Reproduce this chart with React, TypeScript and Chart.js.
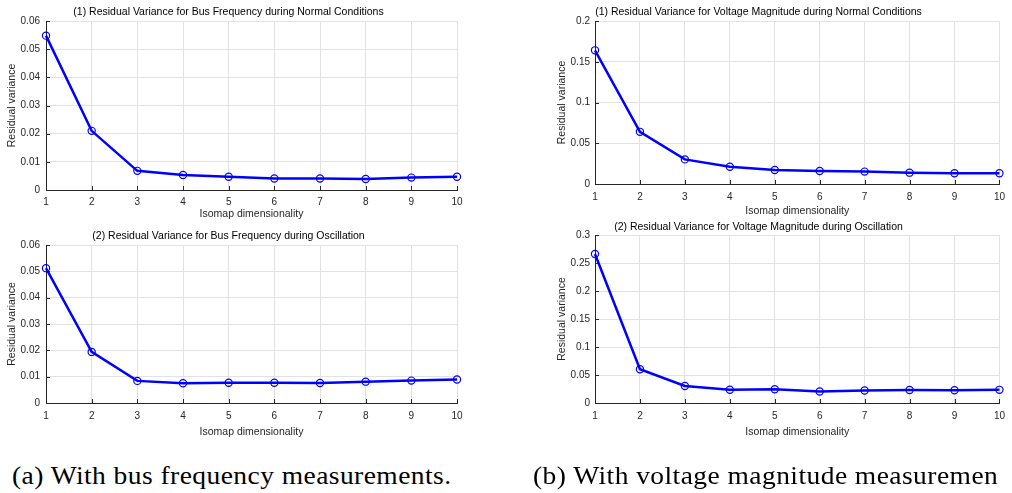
import React, { useEffect, useRef } from "react";
import { Chart, registerables } from "chart.js";

Chart.register(...registerables);

const dims = [1, 2, 3, 4, 5, 6, 7, 8, 9, 10];
const busNormal = [0.0548, 0.021, 0.0068, 0.0053, 0.0047, 0.0041, 0.0041, 0.0039, 0.0044, 0.0047];
const voltNormal = [0.164, 0.064, 0.0302, 0.0212, 0.0171, 0.0159, 0.0152, 0.0139, 0.0132, 0.0131];
const busOsc = [0.0512, 0.0194, 0.0084, 0.0075, 0.0077, 0.0077, 0.0076, 0.0081, 0.0085, 0.0089];
const voltOsc = [0.266, 0.0602, 0.0304, 0.0236, 0.0245, 0.0205, 0.0223, 0.0233, 0.0228, 0.0235];

const titles = [
  "(1) Residual Variance for Bus Frequency during Normal Conditions",
  "(1) Residual Variance for Voltage Magnitude during Normal Conditions",
  "(2) Residual Variance for Bus Frequency during Oscillation",
  "(2) Residual Variance for Voltage Magnitude during Oscillation",
];
const yTitle = "Residual variance";
const xTitle = "Isomap dimensionality";
const captions = ["(a) With bus frequency measurements.", "(b) With voltage magnitude measuremen"];

const FONT = "'Liberation Sans', Arial, Helvetica, sans-serif";
const AXIS = "#262626";
const GRID = "#e2e2e2";

type PanelProps = {
  values: number[];
  yMax: number;
  yStep: number;
  title: string;
  left: number;
  top: number;
  w: number;
  h: number;
  aL: number;
  aT: number;
  aR: number;
  aB: number;
  titleY: number;
  yTitleX: number;
  xLabelY: number;
  xTitleY: number;
  yLabelPad: number;
};

const inwardTicks = {
  id: "inwardTicks",
  beforeDatasetsDraw(chart: any) {
    const { ctx, chartArea, scales } = chart;
    const x = scales.x;
    const y = scales.y;
    ctx.save();
    ctx.strokeStyle = AXIS;
    ctx.lineWidth = 1;
    ctx.beginPath();
    y.ticks.forEach((t: any) => {
      const py = Math.round(y.getPixelForValue(t.value)) + 0.5;
      ctx.moveTo(chartArea.left, py);
      ctx.lineTo(chartArea.left + 4, py);
    });
    x.ticks.forEach((t: any) => {
      const px = Math.round(x.getPixelForValue(t.value)) + 0.5;
      ctx.moveTo(px, chartArea.bottom);
      ctx.lineTo(px, chartArea.bottom - 4);
    });
    ctx.stroke();
    ctx.restore();
  },
};

function fmt(v: number) {
  return String(parseFloat(Number(v).toFixed(4)));
}

function Panel(p: PanelProps) {
  const ref = useRef<HTMLCanvasElement | null>(null);
  useEffect(() => {
    if (!ref.current) return;
    const chart = new Chart(ref.current, {
      type: "line",
      data: {
        datasets: [
          {
            data: dims.map((d, i) => ({ x: d, y: p.values[i] })),
            borderColor: "#0000ff",
            borderWidth: 2.5,
            pointStyle: "circle",
            pointRadius: 3.6,
            pointBorderWidth: 1.2,
            pointBorderColor: "#0000ff",
            pointBackgroundColor: "rgba(0,0,0,0)",
            tension: 0,
            clip: false as any,
          },
        ],
      },
      options: {
        animation: false,
        responsive: false,
        maintainAspectRatio: false,
        events: [],
        layout: { padding: { left: 0, top: 0, bottom: 0, right: p.left + p.w - p.aR } },
        plugins: {
          legend: { display: false },
          tooltip: { enabled: false },
          title: {
            display: true,
            text: p.title,
            color: "#000",
            font: { family: FONT, size: 10.5, weight: "normal", lineHeight: 1.2 },
            padding: { top: p.titleY - p.top - 6.3, bottom: p.aT - p.titleY - 6.3 },
          },
        },
        scales: {
          x: {
            type: "linear",
            min: 1,
            max: 10,
            afterFit: (s: any) => {
              s.height = p.top + p.h - p.aB;
            },
            ticks: {
              stepSize: 1,
              autoSkip: false,
              maxRotation: 0,
              color: AXIS,
              padding: p.xLabelY - p.aB - 6,
              font: { family: FONT, size: 10, lineHeight: 1.2 },
            },
            grid: { color: GRID, drawTicks: false, lineWidth: 1 },
            border: { display: true, color: AXIS, width: 1 },
            title: {
              display: true,
              text: xTitle,
              color: AXIS,
              font: { family: FONT, size: 10.5, lineHeight: 1.2 },
              padding: { top: 0, bottom: p.top + p.h - p.xTitleY - 6.3 },
            },
          },
          y: {
            type: "linear",
            min: 0,
            max: p.yMax,
            afterFit: (s: any) => {
              s.width = p.aL - p.left;
            },
            ticks: {
              stepSize: p.yStep,
              color: AXIS,
              padding: p.yLabelPad,
              callback: (v: any) => fmt(v),
              font: { family: FONT, size: 10, lineHeight: 1.2 },
            },
            grid: { color: GRID, drawTicks: false, lineWidth: 1 },
            border: { display: true, color: AXIS, width: 1 },
            title: {
              display: true,
              text: yTitle,
              color: AXIS,
              font: { family: FONT, size: 10.5, lineHeight: 1.2 },
              padding: { top: p.yTitleX - p.left - 6.3, bottom: 0 },
            },
          },
        },
      },
      plugins: [inwardTicks],
    } as any);
    return () => chart.destroy();
  }, []);
  return (
    <canvas
      ref={ref}
      width={p.w}
      height={p.h}
      style={{ position: "absolute", left: p.left, top: p.top, width: p.w, height: p.h }}
    />
  );
}

const captionStyle: React.CSSProperties = {
  position: "absolute",
  top: 461,
  fontFamily: "'Liberation Serif', 'Times New Roman', serif",
  fontSize: 25,
  lineHeight: "30px",
  letterSpacing: "0.4px",
  transform: "scaleX(1.1)",
  transformOrigin: "0 0",
  whiteSpace: "nowrap",
  color: "#000",
};

export default function App() {
  return (
    <div style={{ position: "fixed", left: 0, top: 0, width: 1012, height: 493, background: "#fff", overflow: "hidden" }}>
      <Panel values={busNormal} yMax={0.06} yStep={0.01} title={titles[0]}
        left={0} top={0} w={500} h={224} aL={46} aT={21} aR={457} aB={190}
        titleY={12} yTitleX={12} xLabelY={202} xTitleY={214} yLabelPad={6} />
      <Panel values={voltNormal} yMax={0.2} yStep={0.05} title={titles[1]}
        left={512} top={0} w={500} h={224} aL={595} aT={21} aR={1005} aB={184}
        titleY={12} yTitleX={562} xLabelY={197} xTitleY={211} yLabelPad={5} />
      <Panel values={busOsc} yMax={0.06} yStep={0.01} title={titles[2]}
        left={0} top={224} w={500} h={220} aL={46} aT={245} aR={457} aB={403}
        titleY={236} yTitleX={12} xLabelY={416} xTitleY={432} yLabelPad={6} />
      <Panel values={voltOsc} yMax={0.3} yStep={0.05} title={titles[3]}
        left={512} top={220} w={500} h={224} aL={595} aT={235} aR={1005} aB={403}
        titleY={227} yTitleX={562} xLabelY={416} xTitleY={432} yLabelPad={5} />
      <div style={{ ...captionStyle, left: 12 }}>{captions[0]}</div>
      <div style={{ ...captionStyle, left: 533 }}>{captions[1]}</div>
    </div>
  );
}
